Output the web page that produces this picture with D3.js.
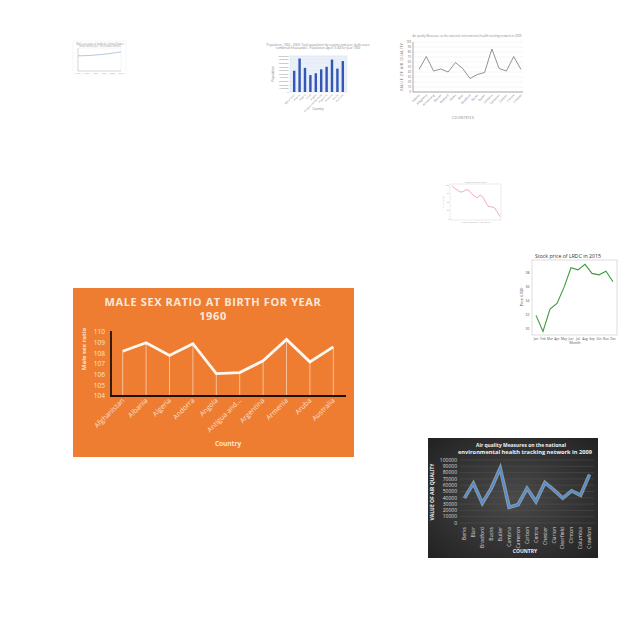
<!DOCTYPE html>
<html><head><meta charset="utf-8">
<script src="https://cdn.jsdelivr.net/npm/d3@7"></script>
<style>html,body{margin:0;padding:0;background:#fff;}svg{display:block;}text{font-family:"Open Sans",Lato,sans-serif;}</style>
</head><body>
<svg id="c" width="640" height="640"></svg>
<script>
// ---------- DATA ----------
const tinyYears = ["1960","1965","1970","1975","1980","1985","1990","1995","2000","2005","2010"];
const tinyValues = [66,66.5,67,68,69.5,71,73,75,77.5,80,83];

const popCountries = ["Afghanistan","Albania","Algeria","Chad","Angola","Antigua and Barbuda","Argentina","Armenia","Aruba","Australia"];
const popValues = [5900000,9300000,6700000,4700000,5200000,6300000,7000000,9000000,6500000,8600000];
const popTicks = [0,1000000,2000000,3000000,4000000,5000000,6000000,7000000,8000000,9000000,10000000];

const aqTopCounties = ["Adams","Allegheny","Armstrong","Beaver","Bedford","Berks","Blair","Bradford","Bucks","Butler","Cambria","Cameron","Carbon","Centre","Chester"];
const aqTopValues = [45,71,42,46,40,59,47,27,35,39,86,47,42,71,45];
const aqTopTicks = [0,10,20,30,40,50,60,70,80,90,100];

const pinkIndex = [1,2,3,4,5,6,7,8,9,10,11,12,13,14,15,16,17,18];
const pinkValues = [98,90,84,79,81,86,84,74,67,62,71,64,48,36,36,33,21,7];
const pinkTicks = [0,25,50,75,100];

const stockMonths = ["Jan","Feb","Mar","Apr","May","Jun","Jul","Aug","Sep","Oct","Nov","Dec"];
const stockPrice = [31.9,29.6,32.8,33.6,35.9,38.7,38.4,39.2,37.9,37.7,38.2,36.7];
const stockTicks = [30,32,34,36,38];

const sexCountries = ["Afghanistan","Albania","Algeria","Andorra","Angola","Antigua and...","Argentina","Armenia","Aruba","Australia"];
const sexRatio = [108.2,109.0,107.8,108.9,106.1,106.2,107.3,109.3,107.2,108.6];
const sexTicks = [104,105,106,107,108,109,110];

const aqCounties = ["Berks","Blair","Bradford","Bucks","Butler","Cambria","Cameron","Carbon","Centre","Chester","Clarion","Clearfield","Clinton","Columbia","Crawford"];
const aqValues = [39500,63000,31500,55000,87000,25000,29000,55000,34000,64000,52500,39500,51000,44000,77000];
const aqTicks = [0,10000,20000,30000,40000,50000,60000,70000,80000,90000,100000];

// ---------- DRAW ----------
const svg = d3.select("#c");
svg.append("rect").attr("width",640).attr("height",640).attr("fill","#fff");

// 1. tiny line chart (top-left)
{
  const g = svg.append("g");
  g.append("rect").attr("x",73).attr("y",41).attr("width",53).attr("height",33).attr("fill","#fff").attr("stroke","#eee").attr("stroke-width",0.5);
  g.append("text").attr("x",100).attr("y",44.5).attr("text-anchor","middle").attr("font-size",2.6).attr("fill","#999").text("Male sex ratio at birth for United States");
  g.append("text").attr("x",100).attr("y",47).attr("text-anchor","middle").attr("font-size",2.6).attr("fill","#999").text("(male births per 100 female births)");
  const x = d3.scalePoint().domain(tinyYears).range([78,121]);
  const y = d3.scaleLinear().domain([0,100]).range([71,48]);
  g.append("rect").attr("x",78).attr("y",48).attr("width",43).attr("height",23).attr("fill","none").attr("stroke","#ddd").attr("stroke-width",0.3);
  g.append("line").attr("x1",78).attr("x2",121).attr("y1",71).attr("y2",71).attr("stroke","#aaa").attr("stroke-width",0.4);
  g.append("line").attr("x1",78).attr("x2",78).attr("y1",48).attr("y2",71).attr("stroke","#aaa").attr("stroke-width",0.4);
  g.selectAll(".tl").data(tinyYears.filter((d,i)=>i%2===0)).join("text").attr("x",d=>x(d)).attr("y",73.5).attr("text-anchor","middle").attr("font-size",2).attr("fill","#aaa").text(d=>d);
  g.append("path").datum(tinyValues).attr("fill","none").attr("stroke","#8fb0d8").attr("stroke-width",0.7)
    .attr("d",d3.line().x((d,i)=>x(tinyYears[i])).y(d=>y(d)));
}

// 2. population bar chart
{
  const g = svg.append("g");
  g.append("text").attr("x",318).attr("y",45.5).attr("text-anchor","middle").attr("font-size",3).attr("fill","#888").text("Population, 1960 - 2060: Total population by country and year, both sexes");
  g.append("text").attr("x",318).attr("y",49).attr("text-anchor","middle").attr("font-size",3).attr("fill","#888").text("combined (thousands) - Population aged 15-64 for year 1960");
  const x = d3.scaleBand().domain(popCountries).range([290,347]).padding(0.55);
  const y = d3.scaleLinear().domain([0,10000000]).range([92,56]);
  g.append("rect").attr("x",290).attr("y",56).attr("width",57).attr("height",36).attr("fill","#eaf0fa").attr("stroke","#d5dcea").attr("stroke-width",0.4);
  g.selectAll(".gl").data(popTicks).join("line").attr("x1",290).attr("x2",347).attr("y1",d=>y(d)).attr("y2",d=>y(d)).attr("stroke","#dde4f0").attr("stroke-width",0.3);
  g.selectAll(".yt").data(popTicks).join("text").attr("x",288.5).attr("y",d=>y(d)+0.8).attr("text-anchor","end").attr("font-size",2.4).attr("fill","#888").text(d=>d);
  g.selectAll(".bar").data(popValues).join("rect").attr("x",(d,i)=>x(popCountries[i])).attr("width",x.bandwidth())
    .attr("y",d=>y(d)).attr("height",d=>92-y(d)).attr("fill","#3457b5");
  g.selectAll(".xl").data(popCountries).join("text").attr("transform",d=>`translate(${x(d)+x.bandwidth()/2+1},95) rotate(-45)`)
    .attr("text-anchor","end").attr("font-size",2.5).attr("fill","#888").text(d=>d);
  g.append("text").attr("transform","translate(274,74) rotate(-90)").attr("text-anchor","middle").attr("font-size",3).attr("fill","#777").text("Population");
  g.append("text").attr("x",318).attr("y",110).attr("text-anchor","middle").attr("font-size",3).attr("fill","#777").text("Country");
}

// 3. air quality line chart (top-right, light)
{
  const g = svg.append("g");
  g.append("text").attr("x",467).attr("y",36.5).attr("text-anchor","middle").attr("font-size",2.8).attr("fill","#888").attr("font-family","Liberation Serif,serif")
    .text("Air quality Measures on the national environmental health tracking network in 2009");
  const x = d3.scalePoint().domain(aqTopCounties).range([419,521]);
  const y = d3.scaleLinear().domain([0,100]).range([92,42]);
  g.selectAll(".gl").data(aqTopTicks).join("line").attr("x1",413).attr("x2",523).attr("y1",d=>y(d)).attr("y2",d=>y(d)).attr("stroke","#e6e6e6").attr("stroke-width",0.4);
  g.append("line").attr("x1",413).attr("x2",413).attr("y1",42).attr("y2",92).attr("stroke","#555").attr("stroke-width",0.5);
  g.append("line").attr("x1",413).attr("x2",523).attr("y1",92).attr("y2",92).attr("stroke","#555").attr("stroke-width",0.5);
  g.selectAll(".yt").data(aqTopTicks).join("text").attr("x",411).attr("y",d=>y(d)+1).attr("text-anchor","end").attr("font-size",2.8).attr("fill","#666").attr("font-family","Liberation Serif,serif").text(d=>d);
  g.append("path").datum(aqTopValues).attr("fill","none").attr("stroke","#777").attr("stroke-width",0.8)
    .attr("d",d3.line().x((d,i)=>x(aqTopCounties[i])).y(d=>y(d)));
  g.selectAll(".xl").data(aqTopCounties).join("text").attr("transform",d=>`translate(${x(d)+1},95.5) rotate(-45)`)
    .attr("text-anchor","end").attr("font-size",3).attr("fill","#777").attr("font-family","Liberation Serif,serif").text(d=>d);
  g.append("text").attr("transform","translate(402.5,67) rotate(-90)").attr("text-anchor","middle").attr("font-size",3.6).attr("letter-spacing",0.5).attr("fill","#777").attr("font-family","Liberation Serif,serif").text("VALUE OF AIR QUALITY");
  g.append("text").attr("x",463).attr("y",119).attr("text-anchor","middle").attr("font-size",3.3).attr("letter-spacing",0.5).attr("fill","#777").attr("font-family","Liberation Serif,serif").text("COUNTRIES");
}

// 4. pink line chart
{
  const g = svg.append("g");
  g.append("text").attr("x",476).attr("y",183).attr("text-anchor","middle").attr("font-size",2.4).attr("fill","#aaa").text("Stock price of LRDC");
  const x = d3.scalePoint().domain(pinkIndex).range([452,500]);
  const y = d3.scaleLinear().domain([0,100]).range([219,185]);
  g.append("rect").attr("x",450).attr("y",184).attr("width",51).attr("height",36).attr("fill","none").attr("stroke","#ccc").attr("stroke-width",0.4);
  g.selectAll(".yt").data(pinkTicks).join("text").attr("x",449).attr("y",d=>y(d)+0.6).attr("text-anchor","end").attr("font-size",2).attr("fill","#999").text(d=>d);
  g.append("path").datum(pinkValues).attr("fill","none").attr("stroke","#e8879b").attr("stroke-width",0.7)
    .attr("d",d3.line().x((d,i)=>x(pinkIndex[i])).y(d=>y(d)));
  g.append("text").attr("x",476).attr("y",222.5).attr("text-anchor","middle").attr("font-size",2.2).attr("fill","#aaa").text("Month (Jan 2015 - Dec 2015)");
  g.append("text").attr("transform","translate(444,202) rotate(-90)").attr("text-anchor","middle").attr("font-size",2.2).attr("fill","#aaa").text("Price (USD)");
}

// 5. stock price chart
{
  const g = svg.append("g");
  const x = d3.scalePoint().domain(stockMonths).range([536,613]);
  const y = d3.scaleLinear().domain([29,40]).range([335.7,258.7]);
  g.append("text").attr("x",568).attr("y",258).attr("text-anchor","middle").attr("font-size",5.2).attr("fill","#333").attr("font-family","Liberation Serif,serif").text("Stock price of LRDC in 2015");
  g.append("rect").attr("x",532).attr("y",260).attr("width",85).attr("height",75).attr("fill","none").attr("stroke","#bbb").attr("stroke-width",0.5);
  g.selectAll(".yt").data(stockTicks).join("text").attr("x",529.5).attr("y",d=>y(d)+1.2).attr("text-anchor","end").attr("font-size",3.4).attr("fill","#555").text(d=>d);
  g.selectAll(".xt").data(stockMonths).join("text").attr("x",d=>x(d)).attr("y",339.5).attr("text-anchor","middle").attr("font-size",3.2).attr("fill","#555").text(d=>d);
  g.append("path").datum(stockPrice).attr("fill","none").attr("stroke","#3f9a3f").attr("stroke-width",1.1)
    .attr("d",d3.line().x((d,i)=>x(stockMonths[i])).y(d=>y(d)));
  g.append("text").attr("x",575).attr("y",344).attr("text-anchor","middle").attr("font-size",3.6).attr("fill","#555").text("Month");
  g.append("text").attr("transform","translate(523,297) rotate(-90)").attr("text-anchor","middle").attr("font-size",3.6).attr("fill","#555").text("Price (USD)");
}

// 6. male sex ratio chart (orange)
{
  const g = svg.append("g");
  g.append("rect").attr("x",73).attr("y",288).attr("width",281).attr("height",169).attr("fill","#ee7d31");
  g.append("text").attr("x",213).attr("y",306).attr("text-anchor","middle").attr("font-size",11).attr("font-weight","bold").attr("letter-spacing",0.6).attr("fill","#fbe7da").attr("font-family","Lato,sans-serif").text("MALE SEX RATIO AT BIRTH FOR YEAR");
  g.append("text").attr("x",213).attr("y",320).attr("text-anchor","middle").attr("font-size",11).attr("font-weight","bold").attr("letter-spacing",0.6).attr("fill","#fbe7da").attr("font-family","Lato,sans-serif").text("1960");
  const x = d3.scalePoint().domain(sexCountries).range([111,345]).padding(0.5);
  const y = d3.scaleLinear().domain([104,110]).range([396,332]);
  g.selectAll(".drop").data(sexRatio).join("line").attr("x1",(d,i)=>x(sexCountries[i])).attr("x2",(d,i)=>x(sexCountries[i]))
    .attr("y1",d=>y(d)).attr("y2",396).attr("stroke","#fff").attr("stroke-opacity",0.65).attr("stroke-width",0.8);
  g.append("line").attr("x1",111).attr("x2",111).attr("y1",331).attr("y2",397).attr("stroke","#1e1208").attr("stroke-width",1.8);
  g.append("line").attr("x1",110).attr("x2",346).attr("y1",396).attr("y2",396).attr("stroke","#1e1208").attr("stroke-width",1.8);
  g.selectAll(".yt").data(sexTicks).join("text").attr("x",105).attr("y",d=>y(d)+2.2).attr("text-anchor","end").attr("font-size",6.5).attr("fill","#fbe3d2").text(d=>d);
  g.append("path").datum(sexRatio).attr("fill","none").attr("stroke","#fff8f2").attr("stroke-width",2.8).attr("stroke-linejoin","miter")
    .attr("d",d3.line().x((d,i)=>x(sexCountries[i])).y(d=>y(d)));
  g.selectAll(".xl").data(sexCountries).join("text").attr("transform",d=>`translate(${x(d)+2},401) rotate(-45)`)
    .attr("text-anchor","end").attr("font-size",7).attr("fill","#fbe3d2").text(d=>d);
  g.append("text").attr("transform","translate(86,349) rotate(-90)").attr("text-anchor","middle").attr("font-size",6).attr("font-weight","bold").attr("fill","#fbe3d2").text("Male sex ratio");
  g.append("text").attr("x",228).attr("y",446).attr("text-anchor","middle").attr("font-size",6.5).attr("font-weight","bold").attr("fill","#fbe3d2").text("Country");
}

// 7. dark air quality chart
{
  const defs = svg.append("defs");
  const rg = defs.append("radialGradient").attr("id","darkbg").attr("cx","50%").attr("cy","50%").attr("r","70%");
  rg.append("stop").attr("offset","0%").attr("stop-color","#4a4a4a");
  rg.append("stop").attr("offset","100%").attr("stop-color","#222");
  const g = svg.append("g");
  g.append("rect").attr("x",428).attr("y",438).attr("width",170).attr("height",120).attr("fill","url(#darkbg)");
  g.append("text").attr("x",521).attr("y",447).attr("text-anchor","middle").attr("font-size",5.6).attr("font-weight","bold").attr("textLength",90).attr("lengthAdjust","spacingAndGlyphs").attr("fill","#f2f2f2").text("Air quality Measures on the national");
  g.append("text").attr("x",525).attr("y",454).attr("text-anchor","middle").attr("font-size",5.6).attr("font-weight","bold").attr("textLength",134).attr("lengthAdjust","spacingAndGlyphs").attr("fill","#f2f2f2").text("environmental health tracking network in 2009");
  const x = d3.scalePoint().domain(aqCounties).range([460,594]).padding(0.5);
  const y = d3.scaleLinear().domain([0,100000]).range([523,460]);
  g.selectAll(".gl").data(aqTicks).join("line").attr("x1",460).attr("x2",594).attr("y1",d=>y(d)).attr("y2",d=>y(d)).attr("stroke","#5a5a5a").attr("stroke-width",0.4);
  g.selectAll(".yt").data(aqTicks).join("text").attr("x",457).attr("y",d=>y(d)+1.7).attr("text-anchor","end").attr("font-size",5).attr("fill","#ddd").text(d=>d);
  const ln = d3.line().x((d,i)=>x(aqCounties[i])).y(d=>y(d));
  g.append("path").datum(aqValues).attr("fill","none").attr("stroke","#d8e6f4").attr("stroke-opacity",0.55).attr("stroke-width",3.6).attr("d",ln);
  g.append("path").datum(aqValues).attr("fill","none").attr("stroke","#4f8fd0").attr("stroke-width",1.8).attr("d",ln);
  g.selectAll(".xl").data(aqCounties).join("text").attr("transform",d=>`translate(${x(d)+1.7},527) rotate(-90)`)
    .attr("text-anchor","end").attr("font-size",5).attr("fill","#ddd").text(d=>d);
  g.append("text").attr("transform","translate(433.5,492) rotate(-90)").attr("text-anchor","middle").attr("font-size",5).attr("font-weight","bold").attr("fill","#eee").text("VALUE OF AIR QUALITY");
  g.append("text").attr("x",525).attr("y",553).attr("text-anchor","middle").attr("font-size",5).attr("font-weight","bold").attr("fill","#eee").text("COUNTRY");
}
</script>
</body></html>
